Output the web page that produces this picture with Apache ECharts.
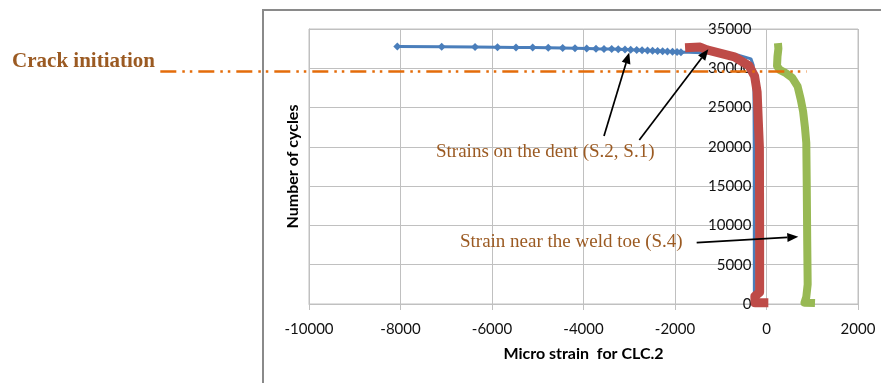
<!DOCTYPE html>
<html>
<head>
<meta charset="utf-8">
<title>Micro strain vs number of cycles, CLC.2</title>
<script src="https://cdn.jsdelivr.net/npm/echarts@6/dist/echarts.min.js"></script>
<style>
  html, body { margin: 0; padding: 0; background: #ffffff; }
  #chart { width: 881px; height: 383px; }
</style>
</head>
<body>
<div id="chart"></div>
<script>
// Axis ranges: [min, max, step]
const strainAxis = [-10000, 2000, 2000];
const cycleAxis = [0, 35000, 5000];

// S.2 (dent) — ramp without markers, from the start of the test up to the turn
const s2Ramp = [
  [-265, 0], [-268, 20000], [-275, 28000], [-290, 30400], [-340, 31200],
  [-600, 31650], [-1000, 31880], [-1400, 31980], [-1700, 32030]
];
// S.2 (dent) — readings after the turn, shown with markers
const s2Readings = [
  [-1870, 32050], [-1955, 32080], [-2055, 32110], [-2165, 32140], [-2270, 32170],
  [-2380, 32200], [-2490, 32230], [-2600, 32260], [-2720, 32300], [-2837, 32340],
  [-2968, 32370], [-3093, 32400], [-3240, 32420], [-3384, 32440], [-3552, 32460],
  [-3727, 32480], [-3930, 32510], [-4186, 32540], [-4455, 32570], [-4770, 32600],
  [-5110, 32630], [-5475, 32660], [-5880, 32690], [-6370, 32720], [-7100, 32740],
  [-8070, 32760]
];
// S.1 (dent)
const s1 = [
  [40, 150], [-250, 150], [-255, 1000], [-150, 1500], [-150, 10000],
  [-155, 20000], [-180, 23400], [-205, 27000], [-260, 29000], [-380, 30300],
  [-700, 31450], [-1300, 32350], [-1450, 32700], [-1780, 32600]
];
// S.4 (near the weld toe)
const s4 = [
  [1060, 120], [830, 170], [870, 900], [900, 2500], [890, 8000], [880, 15000],
  [870, 20500], [840, 22500], [800, 24500], [750, 26000], [680, 27700],
  [560, 28800], [420, 29400], [290, 29800], [230, 30300], [240, 31500],
  [260, 32500], [250, 33200]
];
const crackInitiationCycles = 29600;

// Annotation anchors, in [strain, cycles]
const dentLabelAt = [-7224, 19300];
const weldLabelAt = [-6700, 7890];
const dentArrows = [
  [[-3552, 21380], [-3000, 32000]],
  [[-2780, 20870], [-1272, 32420]]
];
const weldArrow = [[-1526, 7800], [695, 8560]];
const crackLabelAt = [-16490, 30800];
const crackLineSpan = [-13250, 880];

const LABEL_BROWN = '#9b5a22';
const GRID_GREY = '#c0c0c0';

const chart = echarts.init(document.getElementById('chart'), null, { renderer: 'canvas' });

const s2Data = s2Ramp.map(p => ({ value: p, symbol: 'none' }))
  .concat(s2Readings.map(p => ({ value: p })));

// The cycle labels sit beside the zero-strain line, right-aligned
const GRID_LEFT = 309, GRID_RIGHT = 23;
const plotWidth = 881 - GRID_LEFT - GRID_RIGHT;
const zeroOffset = plotWidth * (0 - strainAxis[0]) / (strainAxis[1] - strainAxis[0]);
const cycleLabelGap = 15;

chart.setOption({
  animation: false,
  backgroundColor: '#ffffff',
  grid: {
    left: GRID_LEFT, right: GRID_RIGHT, top: 29, bottom: 79,
    containLabel: false,
    outerBoundsMode: 'none',
    show: true, borderColor: GRID_GREY, borderWidth: 1
  },
  xAxis: {
    type: 'value',
    min: strainAxis[0], max: strainAxis[1], interval: strainAxis[2],
    name: 'Micro strain  for CLC.2',
    nameLocation: 'middle',
    nameGap: 42,
    nameTextStyle: { fontFamily: 'Lato', fontWeight: 'bold', fontSize: 16, color: '#000' },
    axisLine: { onZero: false, lineStyle: { color: GRID_GREY, width: 1 } },
    axisTick: { show: true, length: 6, lineStyle: { color: GRID_GREY } },
    axisLabel: {
      fontFamily: 'Lato', fontSize: 15, color: '#111', margin: 18,
      formatter: v => String(v)
    },
    splitLine: { show: true, lineStyle: { color: GRID_GREY, width: 1 } }
  },
  yAxis: {
    type: 'value',
    position: 'left',
    min: cycleAxis[0], max: cycleAxis[1], interval: cycleAxis[2],
    name: 'Number of cycles',
    nameLocation: 'middle',
    nameGap: 3,
    nameRotate: 90,
    nameTextStyle: { fontFamily: 'Lato', fontWeight: 'bold', fontSize: 16, color: '#000' },
    axisLine: { show: true, onZero: false, lineStyle: { color: GRID_GREY, width: 1 } },
    axisTick: { show: false },
    axisLabel: {
      fontFamily: 'Lato', fontSize: 15, color: '#111',
      margin: -(zeroOffset - cycleLabelGap),
      formatter: v => String(v)
    },
    splitLine: { show: true, lineStyle: { color: GRID_GREY, width: 1 } }
  },
  series: [
    {
      name: 'S.2',
      type: 'line',
      data: s2Data,
      symbol: 'diamond',
      symbolSize: 8,
      showAllSymbol: true,
      itemStyle: { color: '#4a7ebb' },
      lineStyle: { color: '#4a7ebb', width: 3 },
      z: 2
    },
    {
      name: 'S.1',
      type: 'line',
      data: s1,
      symbol: 'none',
      lineStyle: { color: '#be4b48', width: 9, join: 'round' },
      z: 3
    },
    {
      name: 'S.4',
      type: 'line',
      data: s4,
      symbol: 'none',
      lineStyle: { color: '#98b954', width: 8, join: 'round' },
      z: 3
    }
  ]
});

const toPx = p => chart.convertToPixel({ gridIndex: 0 }, p);

function arrow(tail, tip) {
  const a = toPx(tail), b = toPx(tip);
  const dx = b[0] - a[0], dy = b[1] - a[1];
  const len = Math.hypot(dx, dy), ux = dx / len, uy = dy / len;
  const headLen = 11, headHalf = 4.5;
  const base = [b[0] - ux * headLen, b[1] - uy * headLen];
  return [
    { type: 'line', z: 50,
      shape: { x1: a[0], y1: a[1], x2: base[0], y2: base[1] },
      style: { stroke: '#000', lineWidth: 1.7 } },
    { type: 'polygon', z: 50,
      shape: { points: [b, [base[0] - uy * headHalf, base[1] + ux * headHalf], [base[0] + uy * headHalf, base[1] - ux * headHalf]] },
      style: { fill: '#000' } }
  ];
}

function label(text, at, font) {
  const p = toPx(at);
  return { type: 'text', z: 50, x: p[0], y: p[1],
    style: { text: text, font: font, fill: LABEL_BROWN, align: 'left', verticalAlign: 'middle' } };
}

const crackA = toPx([crackLineSpan[0], crackInitiationCycles]);
const crackB = toPx([crackLineSpan[1], crackInitiationCycles]);

const elements = [
  // outer chart frame
  { type: 'rect', z: 1, silent: true,
    shape: { x: 263, y: 10, width: 700, height: 500 },
    style: { fill: 'none', stroke: '#8a8a8a', lineWidth: 2 } },
  // crack initiation level
  { type: 'line', z: 40,
    shape: { x1: crackA[0], y1: crackA[1], x2: crackB[0], y2: crackB[1] },
    style: { stroke: '#e46c0a', lineWidth: 2.5, lineDash: [16, 6, 2.5, 5, 2.5, 6] } },
  label('Crack initiation', crackLabelAt, 'bold 21px "Liberation Serif"'),
  label('Strains on the dent (S.2, S.1)', dentLabelAt, '19px "Liberation Serif"'),
  label('Strain near the weld toe (S.4)', weldLabelAt, '19px "Liberation Serif"')
]
  .concat(arrow(dentArrows[0][0], dentArrows[0][1]))
  .concat(arrow(dentArrows[1][0], dentArrows[1][1]))
  .concat(arrow(weldArrow[0], weldArrow[1]));

chart.setOption({ graphic: { elements: elements } });
</script>
</body>
</html>
